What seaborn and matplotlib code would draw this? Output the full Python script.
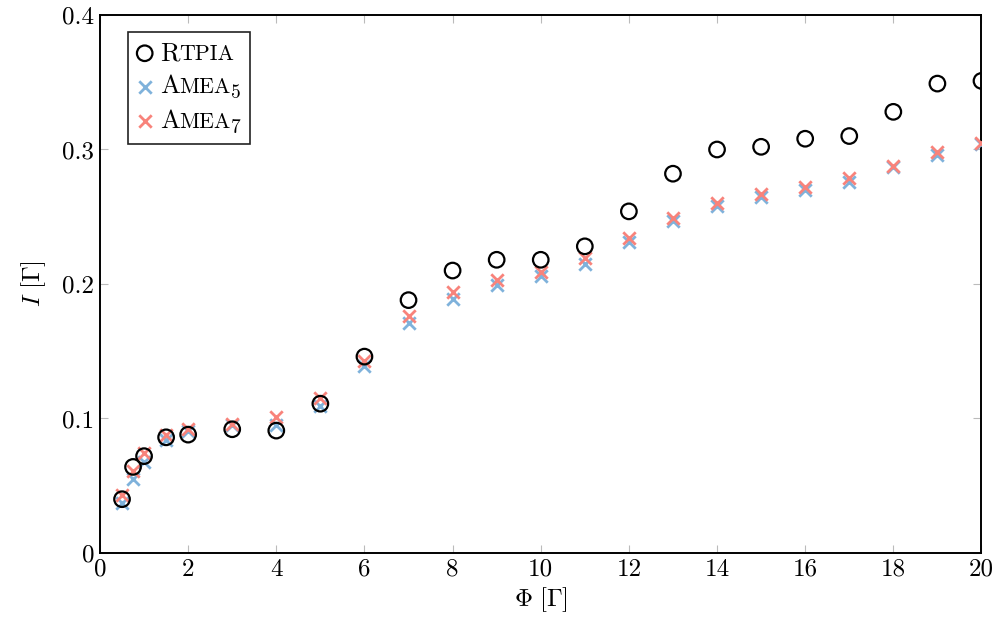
import matplotlib
matplotlib.use("Agg")
import matplotlib.pyplot as plt
import seaborn as sns
import pandas as pd
from matplotlib.offsetbox import HPacker, TextArea

# Measured points: parameter Φ and the resulting I for the three methods
phi = [0.5, 0.75, 1, 1.5, 2, 3, 4, 5, 6, 7, 8, 9, 10, 11, 12, 13, 14, 15, 16, 17, 18, 19, 20]
rtpia = [0.040, 0.064, 0.072, 0.086, 0.088, 0.092, 0.091, 0.111, 0.146, 0.188, 0.210, 0.218,
         0.218, 0.228, 0.254, 0.282, 0.300, 0.302, 0.308, 0.310, 0.328, 0.349, 0.351]
amea5 = [0.037, 0.055, 0.068, 0.084, 0.091, 0.095, 0.095, 0.109, 0.139, 0.171, 0.189, 0.199,
         0.206, 0.215, 0.231, 0.247, 0.258, 0.265, 0.270, 0.276, 0.287, 0.296, 0.304]
amea7 = [0.043, 0.061, 0.074, 0.088, 0.092, 0.096, 0.101, 0.115, 0.143, 0.176, 0.194, 0.203,
         0.209, 0.219, 0.234, 0.249, 0.260, 0.267, 0.272, 0.279, 0.288, 0.298, 0.305]

x_ticks = [0, 2, 4, 6, 8, 10, 12, 14, 16, 18, 20]
y_ticks = [0, 0.1, 0.2, 0.3, 0.4]
y_tick_labels = ["0", "0.1", "0.2", "0.3", "0.4"]

# legend names split into (capital, small capitals, subscript)
names = [("R", "TPIA", ""), ("A", "MEA", "5"), ("A", "MEA", "7")]

sns.set_style("white")
plt.rcParams["font.family"] = ["cmr10", "DejaVu Serif"]
plt.rcParams["mathtext.fontset"] = "cm"
plt.rcParams["axes.formatter.use_mathtext"] = True
plt.rcParams["text.color"] = "black"
plt.rcParams["axes.labelcolor"] = "black"

FS = 18
LFS = 19
blue = "#7fb2db"
red = "#f8837b"

df = pd.DataFrame({"phi": phi, "rtpia": rtpia, "amea5": amea5, "amea7": amea7})

fig = plt.figure(figsize=(10.05, 6.33), dpi=100)
ax = fig.add_axes([0.0995, 0.1264, 0.8771, 0.8499])

sns.scatterplot(data=df, x="phi", y="amea5", ax=ax, marker="x", s=80, color=blue,
                linewidth=2.0, label="Amea5", zorder=3)
sns.scatterplot(data=df, x="phi", y="amea7", ax=ax, marker="x", s=80, color=red,
                linewidth=2.0, label="Amea7", zorder=4)
sns.scatterplot(data=df, x="phi", y="rtpia", ax=ax, marker="o", s=125, facecolor="none",
                edgecolor="black", linewidth=1.6, label="Rtpia", zorder=5)

ax.set_xlim(0, 20)
ax.set_ylim(0, 0.4)
ax.set_xticks(x_ticks)
ax.set_xticklabels([str(t) for t in x_ticks])
ax.set_yticks(y_ticks)
ax.set_yticklabels(y_tick_labels)
ax.tick_params(axis="both", which="both", direction="in", length=6, width=0.8,
               color="#bbbbbb", labelsize=FS, top=True, right=True, bottom=True,
               left=True, pad=4, labelcolor="black")
for side in ax.spines.values():
    side.set_visible(True)
    side.set_color("black")
    side.set_linewidth(1.4)

ax.set_xlabel(r"$\Phi\ [\Gamma]$", fontsize=FS, labelpad=3, color="black")
ax.set_ylabel(r"$I\ [\Gamma]$", fontsize=FS, labelpad=10, color="black")

handles, labels = ax.get_legend_handles_labels()
order = [2, 0, 1]
leg = ax.legend([handles[i] for i in order], [labels[i] for i in order],
                loc="upper left", bbox_to_anchor=(0.032, 0.968), borderaxespad=0,
                fontsize=LFS, frameon=True, fancybox=False, framealpha=1,
                edgecolor="#222222", handlelength=0.55, handletextpad=0.3,
                borderpad=0.35, labelspacing=0.3)
leg.get_frame().set_linewidth(1.2)

# set the names in small capitals: full-size first letter, smaller remaining capitals
rows = [row for col in leg._legend_handle_box.get_children() for row in col.get_children()]
for row, (cap, small, sub) in zip(rows, names):
    parts = [TextArea(cap, textprops=dict(fontsize=LFS, family="cmr10", color="black")),
             TextArea(small, textprops=dict(fontsize=LFS * 0.83, family="cmr10", color="black"))]
    if sub:
        parts.append(TextArea(r"$\!_{%s}$" % sub, textprops=dict(fontsize=LFS * 1.05, color="black")))
    box = HPacker(children=parts, align="baseline", pad=0, sep=0)
    box.set_figure(fig)
    row._children[1] = box

fig.savefig("out.png", dpi=100)
